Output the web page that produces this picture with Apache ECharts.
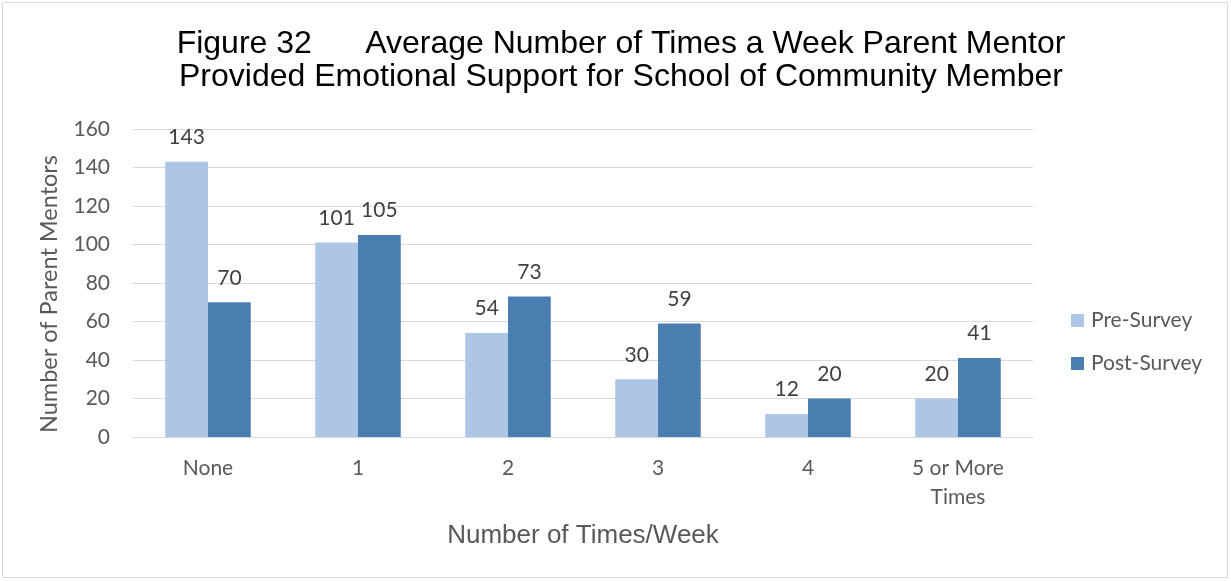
<!DOCTYPE html>
<html>
<head>
<meta charset="utf-8">
<script src="https://cdn.jsdelivr.net/npm/echarts@6/dist/echarts.min.js"></script>
<style>
  html, body { margin: 0; padding: 0; background: #fff; }
  #chart { width: 1231px; height: 581px; }
</style>
</head>
<body>
<div id="chart"></div>
<script>
// Category labels and survey counts
const categories = ['None', '1', '2', '3', '4', '5 or More\nTimes'];
const preSurvey = [143, 101, 54, 30, 12, 20];
const postSurvey = [70, 105, 73, 59, 20, 41];
const yTicks = { min: 0, max: 160, interval: 20 };

const chart = echarts.init(document.getElementById('chart'), null, { renderer: 'canvas' });

const bodyFont = 'Lato, "Open Sans", sans-serif';

const labelStyle = {
  show: true,
  position: 'top',
  distance: 14,
  color: '#404040',
  fontFamily: bodyFont,
  fontSize: 21
};

chart.setOption({
  backgroundColor: '#ffffff',
  animation: false,
  graphic: [{
    type: 'rect',
    shape: { x: 2.5, y: 2.5, width: 1225, height: 575 },
    style: { fill: 'none', stroke: '#d9d9d9', lineWidth: 1 },
    silent: true
  }],
  title: {
    text: 'Figure 32      Average Number of Times a Week Parent Mentor\nProvided Emotional Support for School of Community Member',
    left: 616,
    textAlign: 'center',
    top: 23,
    textStyle: {
      fontFamily: '"Liberation Sans", Arial, sans-serif',
      fontWeight: 'normal',
      fontSize: 32,
      lineHeight: 33,
      color: '#000000'
    }
  },
  legend: {
    orient: 'vertical',
    left: 1071,
    top: 310,
    padding: 0,
    itemWidth: 13,
    itemHeight: 13,
    itemGap: 22,
    icon: 'rect',
    textStyle: {
      fontFamily: bodyFont,
      fontSize: 21,
      color: '#595959',
      padding: [0, 0, 0, 2]
    },
    data: ['Pre-Survey', 'Post-Survey']
  },
  grid: {
    left: 133,
    right: 198,
    top: 129,
    bottom: 144,
    containLabel: false
  },
  xAxis: {
    type: 'category',
    data: categories,
    name: 'Number of Times/Week',
    nameLocation: 'middle',
    nameGap: 86,
    nameTextStyle: {
      fontFamily: '"Liberation Sans", Arial, sans-serif',
      fontSize: 26,
      color: '#595959'
    },
    axisLine: { show: true, lineStyle: { color: '#d9d9d9', width: 1 } },
    axisTick: { show: false },
    axisLabel: {
      color: '#595959',
      fontFamily: bodyFont,
      fontSize: 21,
      lineHeight: 29,
      margin: 17
    }
  },
  yAxis: {
    type: 'value',
    min: yTicks.min,
    max: yTicks.max,
    interval: yTicks.interval,
    name: 'Number of Parent Mentors',
    nameLocation: 'middle',
    nameRotate: 90,
    nameGap: 72,
    nameTextStyle: {
      fontFamily: bodyFont,
      fontSize: 23.5,
      color: '#595959',
      padding: [0, 22, 0, 0]
    },
    axisLine: { show: false },
    axisTick: { show: false },
    axisLabel: {
      color: '#595959',
      fontFamily: bodyFont,
      fontSize: 21,
      margin: 23
    },
    splitLine: { lineStyle: { color: '#d9d9d9', width: 1 } }
  },
  series: [
    {
      name: 'Pre-Survey',
      type: 'bar',
      data: preSurvey,
      barGap: '0%',
      barCategoryGap: '43%',
      itemStyle: { color: '#adc6e5' },
      label: labelStyle
    },
    {
      name: 'Post-Survey',
      type: 'bar',
      data: postSurvey,
      itemStyle: { color: '#4a7eb0' },
      label: labelStyle
    }
  ]
});
</script>
</body>
</html>
